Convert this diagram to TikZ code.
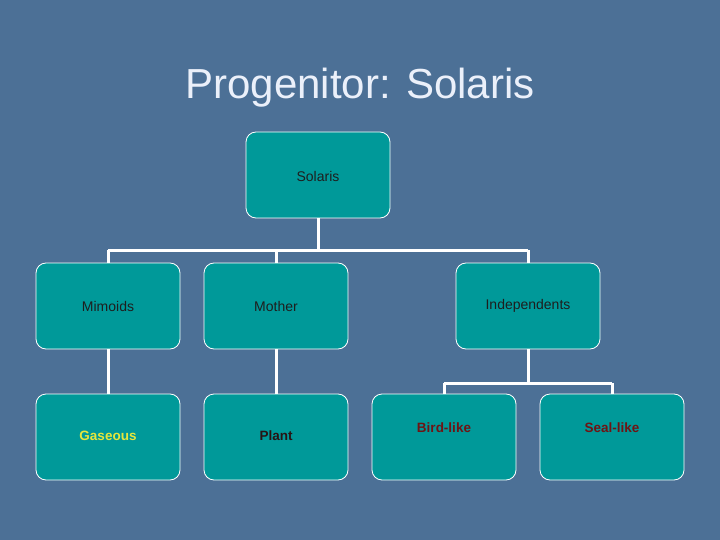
\documentclass[tikz,border=0pt]{standalone}
\usepackage{fontspec}
\setmainfont{Liberation Sans}
\begin{document}
\begin{tikzpicture}[x=1pt,y=-1pt,
  box/.style={draw=white,line width=0.8pt,fill={rgb,255:red,0;green,153;blue,153},rounded corners=10pt,minimum width=144pt,minimum height=86pt,inner sep=0pt},
  conn/.style={draw=white,line width=3pt},
  lbl/.style={font=\fontsize{14}{16}\selectfont,text={rgb,255:red,30;green,30;blue,30}},
  blbl/.style={font=\bfseries\fontsize{13.5}{16}\selectfont}]
\fill[fill={rgb,255:red,76;green,112;blue,150}] (0,0) rectangle (720,540);
\useasboundingbox (0,0) rectangle (720,540);
\node[text={rgb,255:red,235;green,240;blue,250},font=\fontsize{42}{46}\selectfont] (title) at (360,88) {Progenitor: Solaris};
\node[box] (sol) at (318,175) {};
\node[box] (mim) at (108,306) {};
\node[box] (mot) at (276,306) {};
\node[box] (ind) at (528,306) {};
\node[box] (gas) at (108,437) {};
\node[box] (pla) at (276,437) {};
\node[box] (bir) at (444,437) {};
\node[box] (sea) at (612,437) {};
\coordinate (j0) at (318,250);
\coordinate (j1) at (108,250);
\coordinate (j2) at (276,250);
\coordinate (j3) at (528,250);
\coordinate (k0) at (528,383);
\coordinate (k1) at (444,383);
\coordinate (k2) at (612,383);
\draw[conn] (sol.south) -- (j0);
\draw[conn] (j1) -- (j3);
\draw[conn] (j1) -- (mim.north);
\draw[conn] (j2) -- (mot.north);
\draw[conn] (j3) -- (ind.north);
\draw[conn] (mim.south) -- (gas.north);
\draw[conn] (mot.south) -- (pla.north);
\draw[conn] (ind.south) -- (k0);
\draw[conn] (k1) -- (k2);
\draw[conn] (k1) -- (bir.north);
\draw[conn] (k2) -- (sea.north);
\node[lbl] (tsol) at (318,176) {Solaris};
\node[lbl] (tmim) at (108,306) {Mimoids};
\node[lbl] (tmot) at (276,306) {Mother};
\node[lbl] (tind) at (528,306) {Independents};
\node[blbl,text={rgb,255:red,230;green,230;blue,60}] (tgas) at (108,436) {Gaseous};
\node[blbl,text={rgb,255:red,40;green,20;blue,20}] (tpla) at (276,436) {Plant};
\node[blbl,text={rgb,255:red,110;green,20;blue,20}] (tbir) at (444,428) {Bird-like};
\node[blbl,text={rgb,255:red,110;green,20;blue,20}] (tsea) at (612,428) {Seal-like};
\end{tikzpicture}
\end{document}
